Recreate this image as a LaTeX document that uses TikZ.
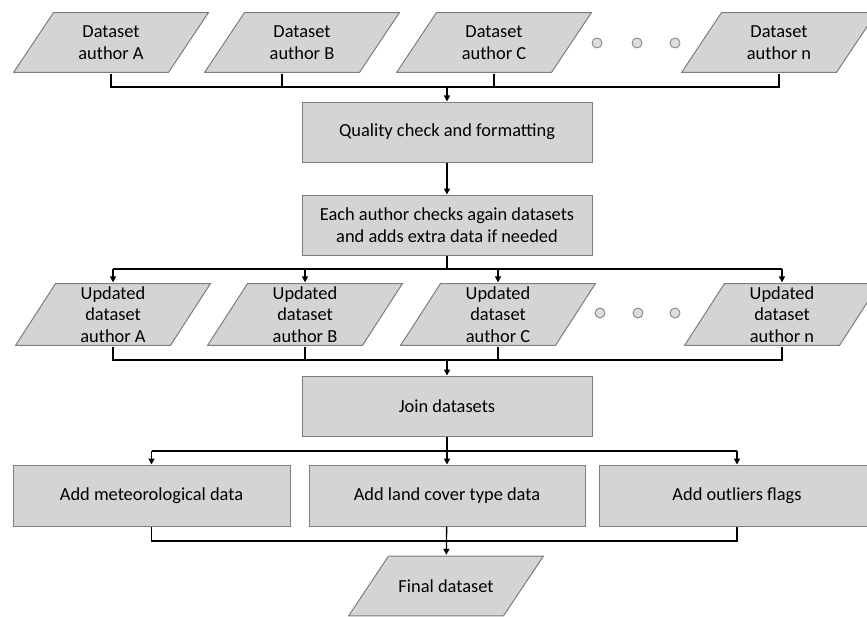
\documentclass[tikz,border=0pt]{standalone}
\usepackage{fontspec}
\setmainfont{Carlito}
\usepackage{tikz}
\usetikzlibrary{arrows.meta}
\definecolor{boxfill}{RGB}{212,212,214}
\definecolor{boxline}{RGB}{125,125,125}

\begin{document}
\begin{tikzpicture}[x=0.75pt,y=-0.75pt,line width=1pt,
  >={Triangle[width=4.5pt,length=4.5pt]},
  dataset/.style={rectangle, minimum width=147pt, minimum height=45.75pt,
    inner sep=0pt, align=center, font=\fontsize{13.8pt}{17pt}\selectfont,
    path picture={\filldraw[draw=boxline, fill=boxfill, line width=0.75pt]
      ([shift={(30.4pt,-0.4pt)}]path picture bounding box.north west)
      -- ([shift={(-0.4pt,-0.4pt)}]path picture bounding box.north east)
      -- ([shift={(-30.4pt,0.4pt)}]path picture bounding box.south east)
      -- ([shift={(0.4pt,0.4pt)}]path picture bounding box.south west) -- cycle;}},
  task/.style={rectangle, draw=boxline, fill=boxfill, line width=0.75pt,
    minimum width=217.5pt, minimum height=45pt, align=center,
    font=\fontsize{13.8pt}{16.8pt}\selectfont},
  dots/.style={circle, draw=boxline, fill=boxfill!80!white, line width=0.6pt,
    minimum size=7.5pt, inner sep=0pt}]
\clip (0,0) rectangle (867,617);

% datasets of the authors
\foreach \n/\x/\l in {dA/111/A,dB/302/B,dC/494/C,dN/779/n}{
	\node[dataset] (\n) at (\x,42.5) {Dataset\\author \l};
}
\foreach \x in {597,637,675}{
	\node[dots] (p\x) at (\x,43) {};
}
\coordinate (j1) at (447,87);
\draw (dA.south) |- (dN.south |- j1) -- (dN.south);
\draw ([xshift=-15pt]dB.south) -- ([xshift=-15pt]dB.south |- j1);
\draw (dC.south) -- (dC.south |- j1);

\node[task] (qc) at (447,132) {Quality check and formatting};
\node[task] (ea) at (447,225) {Each author checks again datasets\\and adds extra data if needed};
\draw[->] (j1) -- (qc);
\draw[->] (qc) -- (ea);

% updated datasets
\foreach \n/\x/\l in {uA/113/A,uB/305/B,uC/498/C,uN/782/n}{
	\node[dataset, minimum height=47.25pt, font=\fontsize{13.8pt}{16.3pt}\selectfont] (\n) at (\x,314.5) {Updated\\dataset\\author \l};
}
\foreach \x in {600,638,675}{
	\node[dots] (q\x) at (\x,313) {};
}
\coordinate (j2) at (447,269);
\draw (ea) -- (j2);
\draw (uA.north |- j2) -- (uN.north |- j2);
\foreach \n in {uA,uB,uC,uN}{
	\draw[->] (\n.north |- j2) -- (\n.north);
}
\coordinate (j3) at (447,360);
\draw (uA.south) |- (uN.south |- j3) -- (uN.south);
\draw (uB.south) -- (uB.south |- j3);
\draw (uC.south) -- (uC.south |- j3);

\node[task] (jd) at (447,406) {Join datasets};
\draw[->] (j3) -- (jd);

% extra data
\node[task, minimum width=207.75pt, minimum height=45.75pt] (met) at (151.5,495.5) {Add meteorological data};
\node[task, minimum width=207pt, minimum height=45.75pt] (land) at (447,495.5) {Add land cover type data};
\node[task, minimum width=207pt, minimum height=45.75pt] (flag) at (737,495.5) {Add outliers flags};
\coordinate (j4) at (447,451);
\draw (jd) -- (j4);
\draw (met.north |- j4) -- (flag.north |- j4);
\foreach \n in {met,land,flag}{
	\draw[->] (\n.north |- j4) -- (\n.north);
}
\coordinate (j5) at (447,541);
\draw (met.south) |- (flag.south |- j5) -- (flag.south);

\node[dataset] (fin) at (446,586) {Final dataset};
\draw[->] (land) -- (fin);
\end{tikzpicture}
\end{document}
